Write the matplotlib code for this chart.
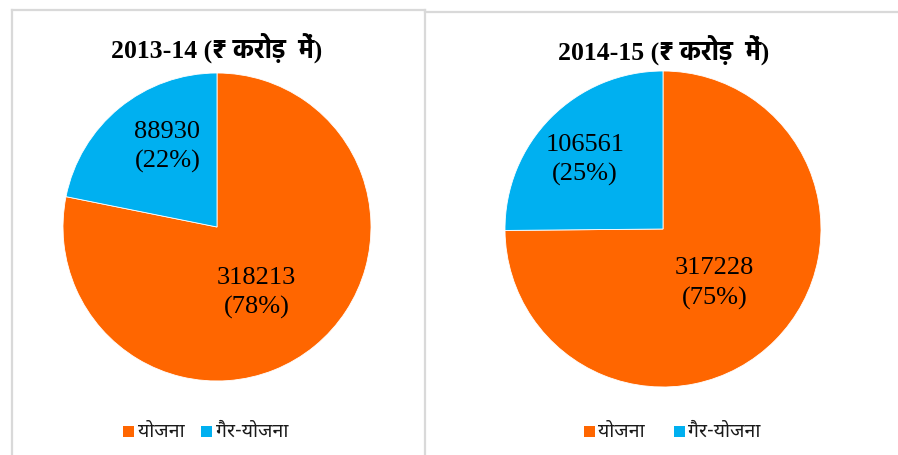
import matplotlib
matplotlib.use("Agg")
import matplotlib.pyplot as plt
from matplotlib.lines import Line2D
from matplotlib.patches import Rectangle
import numpy as np

# ---- data ----
categories = ["योजना", "गैर-योजना"]
years = ["2013-14", "2014-15"]
values_2013 = [318213, 88930]
values_2014 = [317228, 106561]
pct_2013 = [78, 22]
pct_2014 = [75, 25]
title_suffix = " (₹ करोड़  में)"

colors = ["#FF6600", "#00B0F0"]
W, H = 898, 456
SERIF = ["Liberation Serif", "Noto Sans Devanagari", "Poppins", "Hind", "Mukta", "DejaVu Sans"]
TITLE = ["Liberation Serif", "Hind", "Mukta", "Noto Sans Devanagari", "Poppins", "DejaVu Sans"]
DEVA = ["Noto Sans Devanagari", "Hind", "Mukta", "Poppins", "DejaVu Sans"]

fig = plt.figure(figsize=(W / 100, H / 100), dpi=100)

def px_axes(cx, cy, r):
    return fig.add_axes([(cx - r) / W, (H - cy - r) / H, 2 * r / W, 2 * r / H])

# label placement (radius fraction, angle offset in degrees) per slice
panels = [
    dict(cx=217, cy=228, r=154, vals=values_2013, pcts=pct_2013, year=years[0],
         tx=217, ty=48, lab=[(0.48, -6.8), (0.63, -8.6)],
         leg=[(123, 138), (201, 216)]),
    dict(cx=663, cy=230, r=158, vals=values_2014, pcts=pct_2014, year=years[1],
         tx=664, ty=50, lab=[(0.46, 0.0), (0.676, 1.9)],
         leg=[(584, 598), (674, 688)]),
]

for p in panels:
    ax = px_axes(p["cx"], p["cy"], p["r"])
    wedges, _ = ax.pie(p["vals"], colors=colors, startangle=90, counterclock=False,
                       radius=1.0, wedgeprops=dict(edgecolor="white", linewidth=0.6))
    ax.set_xlim(-1, 1)
    ax.set_ylim(-1, 1)
    ax.set_aspect("equal")
    ax.axis("off")
    for w, v, pc, (rf, da) in zip(wedges, p["vals"], p["pcts"], p["lab"]):
        mid = np.deg2rad((w.theta1 + w.theta2) / 2 + da)
        ax.text(rf * np.cos(mid), rf * np.sin(mid) - 0.015, f"{v}\n({pc}%)",
                ha="center", va="center", fontsize=19, family=SERIF,
                linespacing=1.4, color="black")
    fig.text(p["tx"] / W, 1 - p["ty"] / H, p["year"] + title_suffix,
             ha="center", va="center", fontsize=18.5, fontweight="bold", family=TITLE)
    for (sx, tx), cat, col in zip(p["leg"], categories, colors):
        fig.patches.append(Rectangle((sx / W, 1 - 438 / H), 11 / W, 11 / H,
                                     transform=fig.transFigure, facecolor=col,
                                     edgecolor="none"))
        fig.text(tx / W, 1 - 432 / H, cat, ha="left", va="center", fontsize=14,
                 family=DEVA, color="#1a1a1a")

# panel borders
bc = "#d9d9d9"
def fline(x0, y0, x1, y1):
    fig.add_artist(Line2D([x0 / W, x1 / W], [1 - y0 / H, 1 - y1 / H],
                          transform=fig.transFigure, color=bc, linewidth=1.6))
fline(12, 10.5, 425, 10.5)
fline(12, 10.5, 12, 456)
fline(425, 10.5, 425, 456)
fline(425, 12.5, 898, 12.5)

fig.savefig("out.png", dpi=100)
